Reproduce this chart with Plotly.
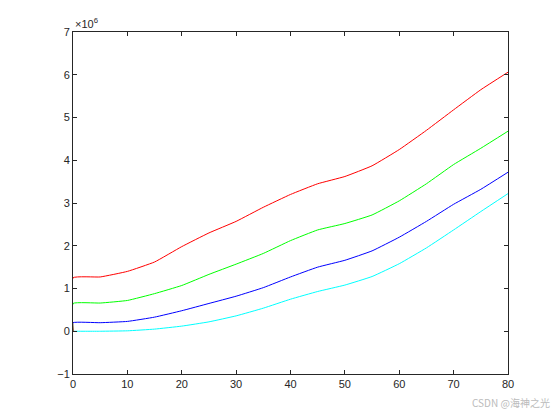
import plotly.graph_objects as go

# x positions (0 repeated: each curve jumps up from zero at the start)
x = [0, 0, 5, 10, 15, 20, 25, 30, 35, 40, 45, 50, 55, 60, 65, 70, 75, 80]
red = [0, 1.25, 1.27, 1.40, 1.62, 1.98, 2.30, 2.57, 2.90, 3.20, 3.45, 3.62, 3.87, 4.25, 4.70, 5.18, 5.65, 6.06]
green = [0, 0.65, 0.66, 0.72, 0.88, 1.07, 1.33, 1.57, 1.82, 2.12, 2.37, 2.52, 2.72, 3.05, 3.45, 3.90, 4.28, 4.68]
blue = [0, 0.20, 0.20, 0.23, 0.33, 0.48, 0.65, 0.82, 1.02, 1.27, 1.50, 1.66, 1.88, 2.20, 2.57, 2.97, 3.32, 3.72]
cyan = [0, 0.0, 0.0, 0.01, 0.05, 0.12, 0.22, 0.36, 0.54, 0.75, 0.93, 1.08, 1.28, 1.58, 1.95, 2.37, 2.80, 3.22]
series = [(cyan, "#00ffff"), (blue, "#0000ff"), (green, "#00ff00"), (red, "#ff0000")]
xticks = list(range(0, 81, 10))
yticks = list(range(-1, 8))

fig = go.Figure()
for ys, col in series:
    fig.add_trace(go.Scatter(x=x, y=ys, mode="lines",
                             line=dict(color=col, width=1, shape="spline", smoothing=0.35),
                             showlegend=False))

ax = dict(showgrid=False, zeroline=False, showline=True, mirror="ticks", linecolor="#262626",
          linewidth=1, ticks="inside", ticklen=4, tickcolor="#262626")
fig.update_xaxes(range=[0, 80], tickvals=xticks, **ax)
fig.update_yaxes(range=[-1, 7], tickvals=yticks, **ax)
fig.add_annotation(xref="paper", yref="paper", x=0, y=1, xanchor="left", yanchor="bottom",
                   text="×10<sup>6</sup>", showarrow=False, font=dict(size=11, color="#262626"))
fig.add_annotation(xref="paper", yref="paper", x=1.1, y=-0.11, xanchor="right", yanchor="bottom",
                   text="CSDN @海神之光", showarrow=False,
                   font=dict(size=10, color="#bbbbbb", family="Noto Sans CJK SC"))
fig.update_layout(width=560, height=420, margin=dict(l=65, r=60, t=24, b=54),
                  paper_bgcolor="white", plot_bgcolor="white",
                  font=dict(family="Liberation Sans, Arial", size=11, color="#262626"))
fig.write_html("out.html")
